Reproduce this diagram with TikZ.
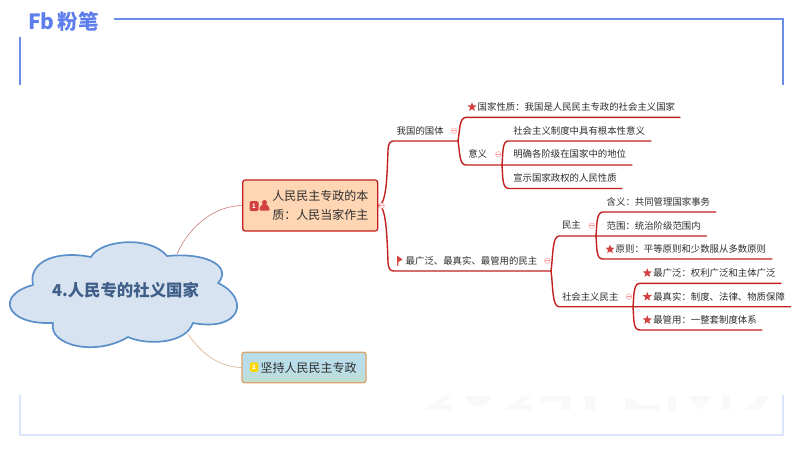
\documentclass[tikz,border=0pt]{standalone}
\usepackage{fontspec}
\setmainfont{Noto Sans CJK SC}
\usetikzlibrary{shapes.geometric}
\definecolor{frameblue}{HTML}{6A8CEB}
\definecolor{palefr}{HTML}{DCE6FB}
\definecolor{trunk}{HTML}{C4201F}
\definecolor{txt}{HTML}{2E2E2E}
\definecolor{cloudfill}{HTML}{D7E3F1}
\definecolor{cloudline}{HTML}{5B8FC9}
\definecolor{cloudtxt}{HTML}{3F5F88}
\definecolor{peach}{HTML}{FFD6B4}
\definecolor{sky}{HTML}{B9DDE9}
\definecolor{skyb}{HTML}{C0DFD0}
\definecolor{tan}{HTML}{DBA36E}
\definecolor{wm}{HTML}{F8F9FB}
\definecolor{starred}{HTML}{D2413F}
\tikzset{
 px/.style={x=1pt,y=-1pt},
 tl/.style={anchor=west,inner sep=0pt,outer sep=0pt,text=txt,font=\fontsize{9.4}{11}\selectfont},
 tr/.style={draw=trunk,line width=1.4pt,line cap=round,line join=round},
 redstar/.style={star,star points=5,star point ratio=2.3,fill=starred,inner sep=0pt,minimum size=9.5pt,draw=none},
 fold/.style={circle,draw=pink!70!red!80,line width=.5pt,inner sep=0pt,minimum size=5.5pt,fill=white,path picture={\draw[pink!70!red!80,line width=.5pt](path picture bounding box.west)--(path picture bounding box.east);}},
 frm/.style={draw=frameblue,line width=1.9pt},
 pfrm/.style={draw=palefr,line width=1.9pt},
}
\begin{document}
\begin{tikzpicture}[px]
\useasboundingbox (0,0) rectangle (800,450);
\fill[white] (0,0) rectangle (800,450);
% frame
\draw[frm] (114,19)--(783,19)--(783,85);
\draw[frm] (20,37)--(20,85);
\draw[pfrm] (20,395)--(20,435)--(783,435)--(783,395);
% watermark smudges
\begin{scope}[fill=wm]
\fill (425,410) -- (445,396) -- (452,396) -- (440,405) -- (452,405) -- (452,410) -- cycle;
\fill (465,396) -- (491,396) .. controls (490,408) and (470,412) .. (465,396) -- cycle;
\fill (502,410) -- (525,396) -- (532,396) -- (520,405) -- (532,405) -- (532,410) -- cycle;
\fill (540,396) -- (570,396) -- (570,410) -- (562,410) -- (562,402) -- (540,402) -- cycle;
\fill (585,396) rectangle (595,410);
\fill (625,398) -- (632,398) -- (640,405) -- (660,405) -- (660,410) -- (625,410) -- cycle;
\fill (668,396) rectangle (676,410);
\fill (688,396) -- (712,396) -- (700,410) -- cycle;
\fill (722,396) -- (730,396) -- (730,410) -- (722,410) -- cycle;
\fill (745,410) -- (760,396) -- (768,396) -- (760,410) -- cycle;
\end{scope}
% logo
\node[anchor=west,inner sep=0,text=frameblue!90!blue,font=\fontsize{21}{21}\bfseries\selectfont] (fb) at (28,21.5) {Fb};
\node[anchor=west,inner sep=0,text=frameblue!90!blue,font=\fontsize{20.5}{20.5}\bfseries\selectfont] (fen) at (57.5,22) {粉笔};
% connectors main
\node[draw=trunk,line width=1.3pt,rounded corners=2.5pt,fill=peach,minimum width=135pt,minimum height=51pt,inner sep=0] (box1) at (310.2,205.5) {};
\node[draw=tan,line width=1.3pt,rounded corners=2.5pt,top color=sky,bottom color=skyb,middle color=sky,minimum width=124pt,minimum height=30.5pt,inner sep=0] (box2) at (304,367.5) {};
\coordinate (c1) at (177,254);
\coordinate (c2) at (188,334);
\draw[red!45!gray!70,line width=.6pt] (c1) .. controls (190,225) and (215,206) .. (box1.west);
\draw[orange!50!gray!60,line width=.6pt] (c2) .. controls (200,352) and (218,367) .. (box2.west);
% cloud
\path[draw=cloudline,fill=cloudfill,line width=1.7pt,line join=round]
 (33,285) .. controls (28,262) and (55,250) .. (91,257)
 .. controls (100,240) and (150,235) .. (167,256)
 .. controls (210,252) and (232,268) .. (218,283)
 .. controls (250,298) and (242,332) .. (193,323)
 .. controls (185,345) and (145,345) .. (128,337)
 .. controls (95,357) and (48,345) .. (53,323)
 .. controls (5,325) and (-5,295) .. (33,285) -- cycle;
\node[inner sep=0,text=cloudtxt,font=\fontsize{16.4}{18}\bfseries\selectfont] (root) at (125.5,290.5) {4.人民专的社义国家};
% box texts
\node[anchor=east,align=left,inner sep=0,text=txt,font=\fontsize{12}{19}\selectfont] (b1t) at (368.5,205.5) {人民民主专政的本\\质：人民当家作主};
\node[anchor=west,inner sep=0,text=txt,font=\fontsize{12}{14}\selectfont] (b2t) at (260.5,368) {坚持人民民主专政};
% priority icons
\node[fill=starred,rounded corners=1.5pt,minimum width=9pt,minimum height=10pt,inner sep=0,text=white,font=\fontsize{6}{6}\bfseries\selectfont] (p1) at (254,206) {1};
\fill[starred] (264.5,202.5) circle (2.5pt);
\fill[starred,rounded corners=1pt] (259.5,210.5) -- (259.5,208) -- (262.5,204) -- (266.5,204) -- (269.5,208) -- (269.5,210.5) -- cycle;
\node[fill=yellow!75!orange,rounded corners=1.5pt,minimum width=8.5pt,minimum height=9.5pt,inner sep=0,text=white,font=\fontsize{6}{6}\bfseries\selectfont] (p2) at (254,367) {2};
% trunks
\coordinate (t1) at (394,141);
\coordinate (t1e) at (458,141);
\coordinate (t2) at (394,271);
\coordinate (t2e) at (551,271);
\draw[tr] (box1.east) .. controls (386,205) and (387,180) .. (388,150) .. controls (388.5,143) and (390,141) .. (t1) -- (t1e);
\draw[tr] (box1.east) .. controls (386,205) and (387,235) .. (388,262) .. controls (388.5,269) and (390,271) .. (t2) -- (t2e);
% upper
\coordinate (u1) at (466,117.3); \coordinate (u1e) at (680,117.3);
\coordinate (u2) at (466,165); \coordinate (u2e) at (632,165);
\draw[tr] (t1e) .. controls (460,130) and (459,118) .. (u1) -- (u1e);
\draw[tr] (t1e) .. controls (460,152) and (459,165) .. (u2) -- (u2e);
\coordinate (s0) at (502,165);
\coordinate (s1) at (508,141); \coordinate (s1e) at (651,141);
\coordinate (s3) at (509,188.5); \coordinate (s3e) at (622,188.5);
\draw[tr] (s0) .. controls (503,155) and (502,141) .. (s1) -- (s1e);
\draw[tr] (s0) .. controls (503,178) and (502,188.5) .. (s3) -- (s3e);
% lower
\coordinate (l1) at (559,236); \coordinate (l1e) at (706.5,236);
\coordinate (l2) at (559,306.7); \coordinate (l2e) at (790.5,306.7);
\draw[tr] (t2e) .. controls (553,258) and (552,236) .. (l1) -- (l1e);
\draw[tr] (t2e) .. controls (553,285) and (552,306.7) .. (l2) -- (l2e);
\coordinate (m0) at (596,236);
\coordinate (m1) at (603,212); \coordinate (m1e) at (716,212);
\coordinate (m3) at (603,259); \coordinate (m3e) at (772,259);
\draw[tr] (m0) .. controls (597,226) and (596,212) .. (m1) -- (m1e);
\draw[tr] (m0) .. controls (597,249) and (596,259) .. (m3) -- (m3e);
\coordinate (n0) at (633,306.7);
\coordinate (n1) at (640,283.3); \coordinate (n1e) at (781,283.3);
\coordinate (n3) at (640,330); \coordinate (n3e) at (762,330);
\draw[tr] (n0) .. controls (634,297) and (633,283.3) .. (n1) -- (n1e);
\draw[tr] (n0) .. controls (634,320) and (633,330) .. (n3) -- (n3e);
% fold circles
\node[fold] (f1) at (381.7,205.7) {};
\node[fold] (f2) at (454,130.7) {};
\node[fold] (f3) at (498.3,154.3) {};
\node[fold] (f4) at (547.3,260.7) {};
\node[fold] (f5) at (591.7,225.7) {};
\node[fold] (f6) at (629,296.7) {};
% labels
\node[tl] (x1) at (396.7,130.7) {我国的国体};
\node[redstar] (st1) at (472,107) {};
\node[tl] (x2) at (477.7,106.7) {国家性质：我国是人民民主专政的社会主义国家};
\node[tl] (x3) at (468.3,154.3) {意义};
\node[tl] (x4) at (513.3,130.7) {社会主义制度中具有根本性意义};
\node[tl] (x5) at (513.3,154.3) {明确各阶级在国家中的地位};
\node[tl] (x6) at (513.3,177.7) {宣示国家政权的人民性质};
\node[tl] (x7) at (405.7,260.7) {最广泛、最真实、最管用的民主};
\fill[starred] (397,255.5) -- (402.5,259.5) -- (398.3,262) -- (398.3,265.5) -- (397,265.5) -- cycle;
\node[tl] (x8) at (562,225.3) {民主};
\node[tl] (x9) at (606.7,202) {含义：共同管理国家事务};
\node[tl] (x10) at (606.7,225.7) {范围：统治阶级范围内};
\node[redstar] (st2) at (610,249.3) {};
\node[tl] (x11) at (615.7,249.3) {原则：平等原则和少数服从多数原则};
\node[tl] (x12) at (562,296.7) {社会主义民主};
\node[redstar] (st3) at (647.3,273) {};
\node[tl] (x13) at (653.3,273) {最广泛：权利广泛和主体广泛};
\node[redstar] (st4) at (647.3,296.7) {};
\node[tl] (x14) at (653.3,296.7) {最真实：制度、法律、物质保障};
\node[redstar] (st5) at (647.3,320) {};
\node[tl] (x15) at (653.3,320) {最管用：一整套制度体系};
\end{tikzpicture}
\end{document}
